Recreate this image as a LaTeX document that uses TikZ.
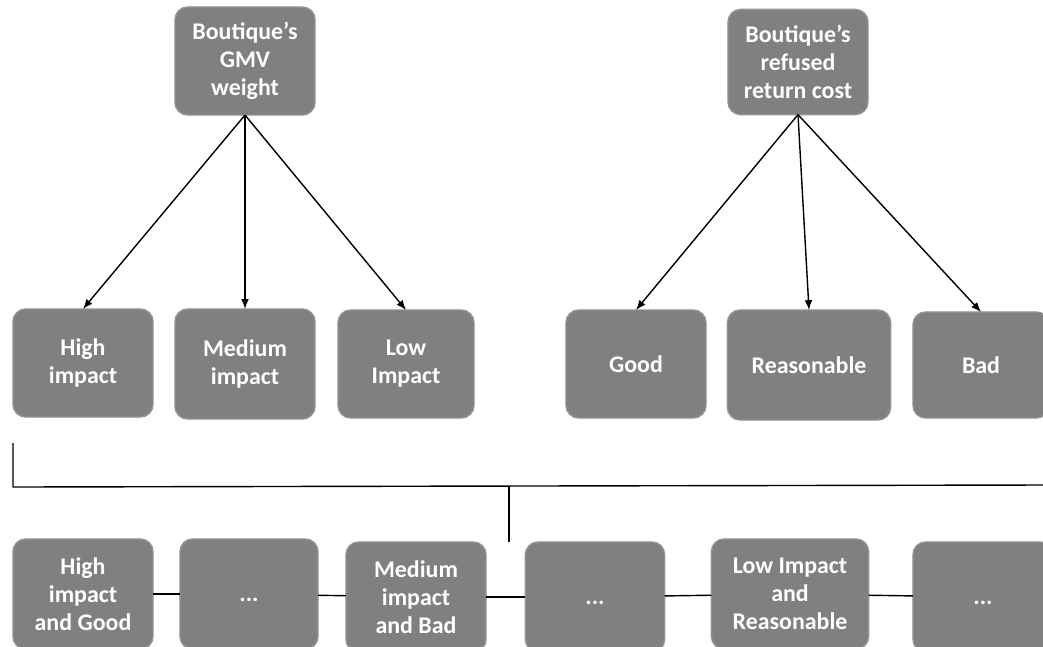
\documentclass[tikz,border=0pt]{standalone}
\usepackage{fontspec}
\setmainfont{Carlito}
\usepackage{tikz}
\usetikzlibrary{positioning}
\usetikzlibrary{arrows.meta}

\begin{document}
\begin{tikzpicture}
[x=0.025cm,y=-0.025cm, line width=1pt, >={Latex[length=7pt,width=5.5pt]},
  box node/.style={rectangle,rounded
    corners=9pt,draw=gray!85,fill=gray,text=white,
    font=\fontsize{17}{20}\selectfont\bfseries,align=center,
    minimum width=3.5cm,minimum height=2.7cm,inner sep=2pt,outer sep=0pt},
  dots node/.style={box node,text height=10pt,text depth=0pt}]
    \useasboundingbox (0,0) rectangle (1043,646);

    % criteria
    \node [box node] (gmv) at (245,61) {Boutique’s\\GMV\\weight};
    \node [box node, minimum height=2.63cm] (ret) at (798,62) {Boutique’s\\refused\\return cost};

    % levels
    \node [box node] (high) at (83,363) {High\\impact};
    \node [box node, minimum height=2.75cm] (med) at (245,364) {Medium\\impact};
    \node [box node, minimum width=3.4cm] (low) at (406,364) {Low\\Impact};
    \node [box node] (good) at (636,364) {Good};
    \node [box node, minimum width=4.08cm, minimum height=2.75cm] (reas) at (809,365) {Reasonable};
    \node [box node, minimum width=3.4cm, minimum height=2.65cm] (bad) at (981,365) {Bad};

    % combinations
    \node [box node, minimum height=2.75cm] (c1) at (83,594) {High\\impact\\and Good};
    \node [dots node, minimum width=3.45cm, minimum height=2.75cm] (c2) at (249,594) {...};
    \node [box node, minimum height=2.75cm] (c3) at (416,597) {Medium\\impact\\and Bad};
    \node [dots node, minimum width=3.48cm, minimum height=2.75cm] (c4) at (595,597) {...};
    \node [box node, minimum width=3.93cm, minimum height=2.75cm] (c5) at (790,594) {Low Impact\\and\\Reasonable};
    \node [dots node, minimum height=2.75cm] (c6) at (983,597) {...};

    \draw[->] (gmv.south) -- (high.north);
    \draw[->] (gmv.south) -- (med.north);
    \draw[->] (gmv.south) -- (low.north);
    \draw[->] (ret.south) -- (good.north);
    \draw[->] (ret.south) -- (reas.north);
    \draw[->] (ret.south) -- (bad.north);

    \coordinate (busL) at (13,443);
    \coordinate (busA) at (13,487);
    \coordinate (busR) at (1043,485);
    \coordinate (busM) at (509,486);
    \coordinate (busD) at (509,542);
    \draw (busL) -- (busA) -- (busR);
    \draw (busM) -- (busD);

    \draw (c1) -- (c2);
    \draw (c2) -- (c3);
    \draw (c3) -- (c4);
    \draw (c4) -- (c5);
    \draw (c5) -- (c6);
\end{tikzpicture}
\end{document}
